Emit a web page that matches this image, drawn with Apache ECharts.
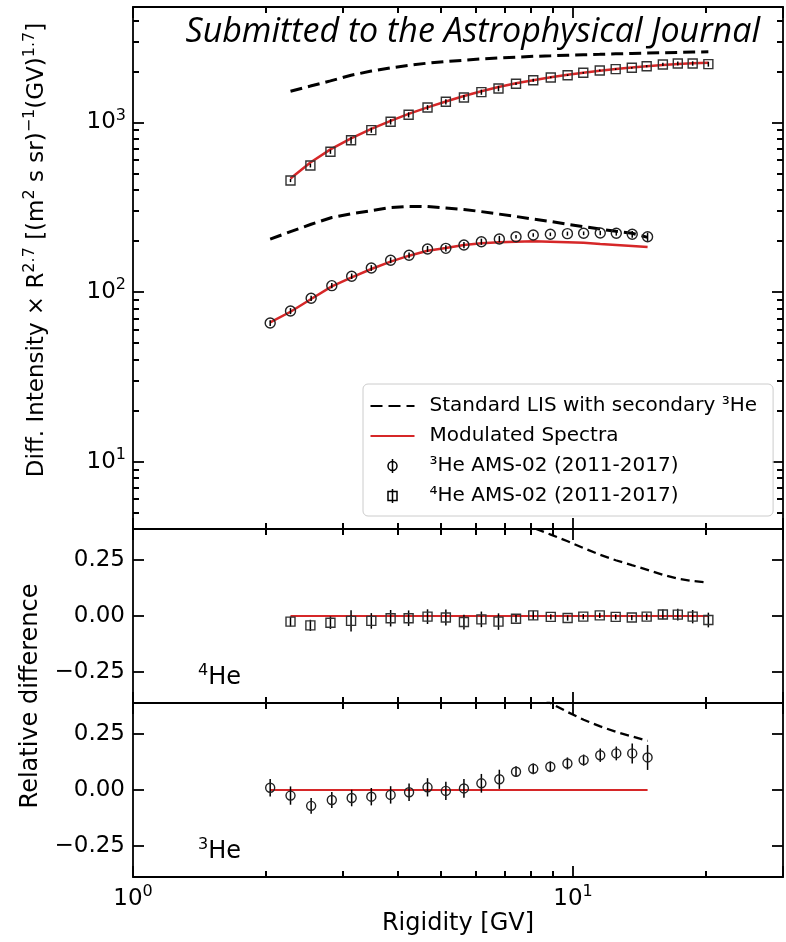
<!DOCTYPE html>
<html><head><meta charset="utf-8">
<script src="https://cdn.jsdelivr.net/npm/echarts@6/dist/echarts.min.js"></script>
<style>html,body{margin:0;padding:0;background:#fff}#chart{width:786px;height:942px}</style>
</head><body><div id="chart"></div>
<script>
// ---------------- data ----------------
const rigidity4He = [2.28, 2.53, 2.81, 3.13, 3.48, 3.85, 4.23, 4.67, 5.14, 5.65, 6.19, 6.77, 7.42, 8.12, 8.90, 9.72, 10.55, 11.5, 12.5, 13.6, 14.7, 16.0, 17.3, 18.7, 20.3];
const flux4He = [455, 557, 672, 786, 901, 1010, 1110, 1226, 1325, 1405, 1510, 1587, 1692, 1776, 1843, 1901, 1964, 2027, 2063, 2102, 2148, 2199, 2229, 2229, 2208];
const model4He = [467, 581, 694, 806, 918, 1022, 1124, 1228, 1331, 1434, 1527, 1618, 1702, 1776, 1846, 1910, 1966, 2019, 2067, 2110, 2149, 2183, 2212, 2234, 2250];
const lis4He = [1530, 1640, 1760, 1900, 2010, 2100, 2170, 2240, 2290, 2330, 2370, 2400, 2430, 2455, 2475, 2495, 2510, 2525, 2540, 2555, 2570, 2580, 2592, 2603, 2613];
const relDiff4He = [-0.025, -0.042, -0.030, -0.022, -0.022, -0.010, -0.010, -0.003, -0.007, -0.027, -0.015, -0.025, -0.012, 0.003, -0.004, -0.009, -0.003, 0.003, -0.004, -0.007, -0.003, 0.007, 0.006, -0.003, -0.018];
const relErr4He = [0.022, 0.025, 0.028, 0.048, 0.035, 0.037, 0.035, 0.033, 0.036, 0.033, 0.035, 0.037, 0.016, 0.020, 0.012, 0.012, 0.012, 0.012, 0.012, 0.012, 0.015, 0.022, 0.026, 0.030, 0.033];
const lisRelRigidity4He = [7.42, 8.12, 8.90, 9.72, 10.55, 11.5, 12.5, 13.6, 14.7, 16.0, 17.3, 18.7, 20.3];
const lisRel4He = [0.48, 0.395, 0.365, 0.335, 0.305, 0.275, 0.25, 0.228, 0.208, 0.185, 0.167, 0.157, 0.149];

const rigidity3He = [2.05, 2.28, 2.54, 2.83, 3.14, 3.48, 3.85, 4.24, 4.67, 5.14, 5.65, 6.19, 6.80, 7.42, 8.12, 8.88, 9.71, 10.57, 11.53, 12.54, 13.63, 14.77];
const flux3He = [65.6, 77.2, 91.8, 109, 124, 138.6, 154, 164.6, 179.4, 181, 189.4, 198, 205.5, 212, 217, 219, 221, 222, 223, 222, 219, 212];
const model3He = [66.3, 76.5, 90.9, 108, 122, 136.7, 151, 163.8, 175.3, 181.8, 189.4, 193.8, 196.5, 198.1, 199.2, 198.1, 196.5, 195, 192, 189.4, 186.8, 184.3];
const lis3He = [205, 227, 251, 275, 290, 302, 315, 320, 319, 313, 307, 298, 288, 279, 269, 261, 251, 243, 235, 228, 222, 210];
const relDiff3He = [0.010, -0.025, -0.071, -0.045, -0.036, -0.030, -0.022, -0.010, 0.012, -0.004, 0.007, 0.030, 0.048, 0.082, 0.095, 0.104, 0.119, 0.134, 0.156, 0.164, 0.164, 0.146];
const relErr3He = [0.039, 0.041, 0.035, 0.036, 0.037, 0.039, 0.039, 0.039, 0.041, 0.041, 0.042, 0.042, 0.043, 0.024, 0.024, 0.024, 0.027, 0.025, 0.030, 0.031, 0.045, 0.056];
const lisRelRigidity3He = [8.12, 8.88, 9.71, 10.57, 11.53, 12.54, 13.63, 14.77];
const lisRel3He = [0.45, 0.39, 0.35, 0.315, 0.285, 0.26, 0.24, 0.22];

const xMinorTicks = [2, 3, 4, 5, 6, 7, 8, 9, 20];
const yMinorTicksLog = [5, 6, 7, 8, 9, 20, 30, 40, 50, 60, 70, 80, 90, 200, 300, 400, 500, 600, 700, 800, 900, 2000, 3000, 4000];
const relTicks = [-0.25, 0, 0.25];

const xRange = [1, 30];
const yRangeTop = [4, 4800];
const yRangeRel = [-0.39, 0.39];

const nameLIS = 'Standard LIS with secondary ³He';
const nameMod = 'Modulated Spectra';
const name3He = '³He AMS-02 (2011-2017)';
const name4He = '⁴He AMS-02 (2011-2017)';

// ---------------- helpers ----------------
const FONT = 'DejaVu Sans';
const RED = '#d62728';
const zip = (a, b) => a.map((v, i) => [v, b[i]]);

function supRich(big, small) {
  return {
    b: {fontSize: big, lineHeight: big + 7, fontFamily: FONT, color: '#000'},
    s: {fontSize: small, lineHeight: small, verticalAlign: 'top', fontFamily: FONT, color: '#000'}
  };
}
function logLabel(v) {
  const l = Math.log10(v);
  if (Math.abs(l - Math.round(l)) > 1e-6) return '';
  return '{b|10}{s|' + Math.round(l) + '}';
}
function relLabel(v) {
  return v.toFixed(2).replace('-', '\u2212');
}

const axisLineStyle = {show: true, onZero: false, lineStyle: {color: '#000', width: 1.8}};
const tickStyle = {show: true, inside: true, length: 11, lineStyle: {color: '#000', width: 1.8}};
const minorTickStyle = {show: true, inside: true, length: 6, lineStyle: {color: '#000', width: 2}};

const grids = [
  {left: 133, top: 7, width: 650, height: 522},
  {left: 133, top: 529, width: 650, height: 174},
  {left: 133, top: 703, width: 650, height: 174}
].map(g => Object.assign(g, {containLabel: false, outerBoundsMode: 'none'}));

const xAxes = [];
const yAxes = [];
for (let g = 0; g < 3; g++) {
  ['bottom', 'top'].forEach(pos => {
    const showLab = (g === 2 && pos === 'bottom');
    const ax = {
      type: 'log', logBase: 10, min: xRange[0], max: xRange[1], gridIndex: g, position: pos,
      axisLine: axisLineStyle, axisTick: tickStyle, splitLine: {show: false}, minorTick: {show: false},
      axisLabel: {show: showLab, formatter: logLabel, margin: 7, rich: supRich(23, 16)}
    };
    if (showLab) {
      ax.name = 'Rigidity [GV]';
      ax.nameLocation = 'middle';
      ax.nameGap = 35;
      ax.nameTextStyle = {fontSize: 24, fontFamily: FONT, color: '#000'};
    }
    xAxes.push(ax);
  });
  ['left', 'right'].forEach(pos => {
    const showLab = pos === 'left';
    let ax;
    if (g === 0) {
      ax = {type: 'log', logBase: 10, min: yRangeTop[0], max: yRangeTop[1],
        axisLabel: {show: showLab, formatter: logLabel, margin: 7, rich: supRich(23, 16)}};
    } else {
      ax = {type: 'value', min: yRangeRel[0], max: yRangeRel[1],
        axisLabel: {show: showLab, formatter: relLabel, margin: 8, fontSize: 23, fontFamily: FONT, color: '#000', customValues: relTicks}};
    }
    Object.assign(ax, {gridIndex: g, position: pos, axisLine: axisLineStyle,
      axisTick: g === 0 ? tickStyle : Object.assign({customValues: relTicks}, tickStyle),
      splitLine: {show: false}});
    yAxes.push(ax);
  });
}

// Minor log ticks (2..9 per decade): tick-only overlay axes in log10 space,
// appended after the data axes so series indices are unchanged.
for (let g = 0; g < 3; g++) {
  ['bottom', 'top'].forEach(pos => {
    xAxes.push({type: 'value', gridIndex: g, position: pos,
      min: Math.log10(xRange[0]), max: Math.log10(xRange[1]),
      axisLine: {show: false, onZero: false}, axisLabel: {show: false}, splitLine: {show: false},
      axisTick: Object.assign({customValues: xMinorTicks.map(Math.log10)}, minorTickStyle)});
  });
}
['left', 'right'].forEach(pos => {
  yAxes.push({type: 'value', gridIndex: 0, position: pos,
    min: Math.log10(yRangeTop[0]), max: Math.log10(yRangeTop[1]),
    axisLine: {show: false, onZero: false}, axisLabel: {show: false}, splitLine: {show: false},
    axisTick: Object.assign({customValues: yMinorTicksLog.map(Math.log10)}, minorTickStyle)});
});

function errSeries(name, g, xs, ys, es, shape, size) {
  return {
    type: 'custom', name: name, xAxisIndex: 2 * g, yAxisIndex: 2 * g, z: 5,
    itemStyle: {color: 'none', borderColor: '#000', borderWidth: 1.5},
    data: xs.map((x, i) => [x, ys[i], es[i]]),
    encode: {x: 0, y: 1},
    renderItem(params, api) {
      const x = api.value(0), y = api.value(1), e = api.value(2);
      const c = api.coord([x, y]), hi = api.coord([x, y + e]), lo = api.coord([x, y - e]);
      const h = size / 2;
      const mk = shape === 'circle'
        ? {type: 'circle', shape: {cx: c[0], cy: c[1], r: h}, style: {fill: 'none', stroke: '#222', lineWidth: 1.4}}
        : {type: 'rect', shape: {x: c[0] - h, y: c[1] - h, width: size, height: size}, style: {fill: 'none', stroke: '#333', lineWidth: 1.4}};
      return {type: 'group', children: [
        {type: 'line', shape: {x1: c[0], y1: hi[1], x2: c[0], y2: lo[1]}, style: {stroke: '#000', lineWidth: 1.5}},
        mk
      ]};
    }
  };
}
function lineSeries(name, g, data, color, width, dash, z) {
  return {
    type: 'line', name: name, xAxisIndex: 2 * g, yAxisIndex: 2 * g, data: data,
    symbol: 'none', showSymbol: false, silent: true, clip: true, z: z,
    lineStyle: {color: color, width: width, type: dash ? dash : 'solid'},
    itemStyle: {color: color}
  };
}

const series = [
  lineSeries(nameLIS, 0, zip(rigidity4He, lis4He), '#000', 3, [12, 6], 3),
  lineSeries(nameLIS, 0, zip(rigidity3He, lis3He), '#000', 3, [12, 6], 3),
  lineSeries(nameMod, 0, zip(rigidity4He, model4He), RED, 2.5, null, 2),
  lineSeries(nameMod, 0, zip(rigidity3He, model3He), RED, 2.5, null, 2),
  errSeries(name4He, 0, rigidity4He, flux4He, flux4He.map((f, i) => f * relErr4He[i]), 'rect', 9),
  errSeries(name3He, 0, rigidity3He, flux3He, flux3He.map((f, i) => f * relErr3He[i]), 'circle', 10),

  lineSeries(nameLIS, 1, zip(lisRelRigidity4He, lisRel4He), '#000', 2.3, [9, 5], 3),
  lineSeries(nameMod, 1, rigidity4He.map(r => [r, 0]), RED, 2, null, 2),
  errSeries(name4He, 1, rigidity4He, relDiff4He, relErr4He, 'rect', 9),

  lineSeries(nameLIS, 2, zip(lisRelRigidity3He, lisRel3He), '#000', 2.3, [9, 5], 3),
  lineSeries(nameMod, 2, rigidity3He.map(r => [r, 0]), RED, 2, null, 2),
  errSeries(name3He, 2, rigidity3He, relDiff3He, relErr3He, 'circle', 9)
];

const circleIcon = 'path://M0,0M44,14M22,0L22,14M26.5,7A4.5,4.5,0,1,1,17.5,7A4.5,4.5,0,1,1,26.5,7';
const squareIcon = 'path://M0,0M44,14M22,0L22,14M17.5,2.5L26.5,2.5L26.5,11.5L17.5,11.5Z';
const markerLegendStyle = {color: 'none', borderColor: '#000', borderWidth: 1.5};
const hiddenSymbolStyle = {color: 'rgba(0,0,0,0)', borderColor: 'rgba(0,0,0,0)', borderWidth: 0};

const textRich = {
  a: {fontSize: 23, lineHeight: 30, fontFamily: FONT, fill: '#000', color: '#000'},
  s: {fontSize: 16, lineHeight: 16, verticalAlign: 'top', fontFamily: FONT, fill: '#000', color: '#000'}
};

const option = {
  animation: false,
  backgroundColor: '#fff',
  textStyle: {fontFamily: FONT, color: '#000'},
  title: {
    text: 'Submitted to the Astrophysical Journal', right: 21, top: 10,
    textStyle: {fontStyle: 'italic', fontWeight: 'normal', fontSize: 34, fontFamily: 'Open Sans', color: '#000'}
  },
  grid: grids,
  xAxis: xAxes,
  yAxis: yAxes,
  legend: {
    orient: 'vertical', left: 363, top: 384,
    padding: [12, 16, 10, 5], itemGap: 10, itemWidth: 44, itemHeight: 14,
    backgroundColor: 'rgba(255,255,255,0.85)', borderColor: '#cccccc', borderWidth: 1, borderRadius: 5,
    textStyle: {fontSize: 20, fontFamily: FONT, color: '#000', padding: [0, 0, 0, 10]},
    selectedMode: false,
    data: [
      {name: nameLIS, itemStyle: hiddenSymbolStyle},
      {name: nameMod, itemStyle: hiddenSymbolStyle},
      {name: name3He, icon: circleIcon, itemStyle: markerLegendStyle},
      {name: name4He, icon: squareIcon, itemStyle: markerLegendStyle}
    ]
  },
  graphic: [
    {type: 'text', x: 37, y: 250, rotation: Math.PI / 2, z: 10,
      style: {text: '{a|Diff. Intensity × R}{s|2.7}{a| [(m}{s|2}{a| s sr)}{s|\u22121}{a|(GV)}{s|1.7}{a|]}',
        rich: textRich, align: 'center', verticalAlign: 'middle', textAlign: 'center', textVerticalAlign: 'middle'}},
    {type: 'text', x: 31, y: 696, rotation: Math.PI / 2, z: 10,
      style: {text: 'Relative difference', fontSize: 24, fontFamily: FONT, fill: '#000',
        align: 'center', verticalAlign: 'middle', textAlign: 'center', textVerticalAlign: 'middle'}},
    {type: 'text', x: 198, y: 678, z: 10,
      style: {text: '{s|4}{a|He}', rich: {a: Object.assign({}, textRich.a, {fontSize: 24}), s: textRich.s},
        align: 'left', verticalAlign: 'middle', textAlign: 'left', textVerticalAlign: 'middle'}},
    {type: 'text', x: 198, y: 852, z: 10,
      style: {text: '{s|3}{a|He}', rich: {a: Object.assign({}, textRich.a, {fontSize: 24}), s: textRich.s},
        align: 'left', verticalAlign: 'middle', textAlign: 'left', textVerticalAlign: 'middle'}}
  ],
  series: series
};

const chart = echarts.init(document.getElementById('chart'), null, {renderer: 'canvas'});
chart.setOption(option);
</script>
</body></html>
